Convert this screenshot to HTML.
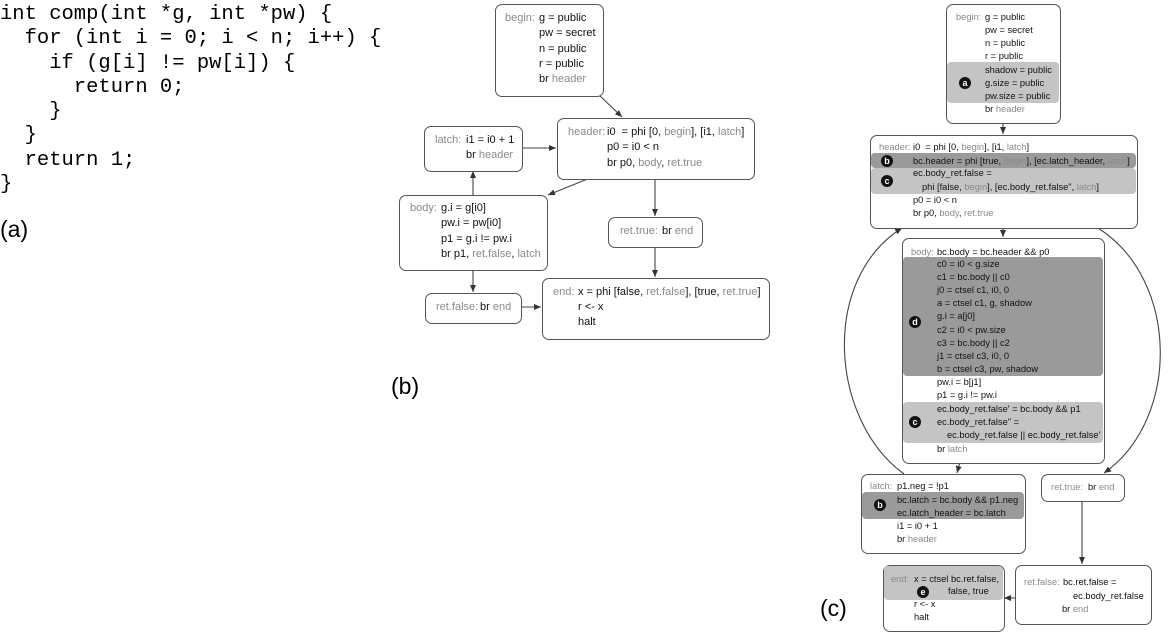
<!DOCTYPE html>
<html><head><meta charset="utf-8">
<style>
body{margin:0;width:1176px;height:641px;background:#fff;position:relative;overflow:hidden;font-family:"Liberation Sans",sans-serif;}
.code{position:absolute;left:0;top:3px;font-family:"Liberation Mono",monospace;font-size:20.5px;line-height:24.3px;white-space:pre;color:#000;}
.lbl{position:absolute;font-size:23px;color:#000;}
.box{position:absolute;border:1px solid #555;border-radius:7px;background:#fff;}
.t{position:absolute;white-space:pre;color:#111;line-height:14px;}
.b .t{font-size:11px;}
.c .t{font-size:9.3px;line-height:12px;}
.g{color:#8a8a8a;}
.band{position:absolute;border-radius:4px;}
.dk{background:#9a9a9a;}
.lt{background:#c4c4c4;}
.m{position:absolute;width:12px;height:12px;border-radius:50%;background:#111;color:#fff;font-size:9px;font-weight:bold;text-align:center;line-height:12px;}
</style></head><body>
<div class="code">int comp(int *g, int *pw) {
  for (int i = 0; i &lt; n; i++) {
    if (g[i] != pw[i]) {
      return 0;
    }
  }
  return 1;
}</div>
<div class="lbl" style="left:0;top:216px">(a)</div>
<div class="lbl" style="left:391px;top:373px">(b)</div>
<div class="lbl" style="left:820px;top:595px">(c)</div>

<svg width="1176" height="641" style="position:absolute;left:0;top:0">
<defs><marker id="ar" markerWidth="8" markerHeight="8" refX="7" refY="4" orient="auto" markerUnits="userSpaceOnUse"><path d="M0,1 L7,4 L0,7 z" fill="#333"/></marker></defs>
<g stroke="#444" stroke-width="1.1" fill="none" marker-end="url(#ar)">
<line x1="598" y1="94" x2="622" y2="117"/>
<line x1="521" y1="148" x2="556" y2="148"/>
<line x1="590" y1="178" x2="548" y2="195"/>
<line x1="655" y1="178" x2="655" y2="216"/>
<line x1="473" y1="195" x2="473" y2="171"/>
<line x1="473" y1="269" x2="473" y2="292"/>
<line x1="655" y1="246" x2="655" y2="277"/>
<line x1="520" y1="307" x2="541" y2="307"/>
<line x1="1003" y1="122" x2="1003" y2="134"/>
<line x1="1003" y1="227" x2="1003" y2="237"/>
<line x1="960" y1="462" x2="957" y2="473"/>
<line x1="1082" y1="500" x2="1082" y2="564"/>
<line x1="1015" y1="598" x2="1004" y2="598"/>
<path d="M904,474 C830,420 820,280 902,228"/>
<path d="M1098,228 C1180,280 1180,420 1104,473"/>
</g>
</svg>

<!-- (b) -->
<div class="b">
<div class="box" style="left:495px;top:4px;width:107px;height:91px"></div>
<span class="t g" style="left:505px;top:11px">begin:</span>
<span class="t" style="left:539px;top:11px">g = public</span>
<span class="t" style="left:539px;top:26px">pw = secret</span>
<span class="t" style="left:539px;top:42px">n = public</span>
<span class="t" style="left:539px;top:57px">r = public</span>
<span class="t" style="left:539px;top:72px">br <span class="g">header</span></span>

<div class="box" style="left:557px;top:118px;width:196px;height:60px"></div>
<span class="t g" style="left:568px;top:125px">header:</span>
<span class="t" style="left:607px;top:125px">i0  = phi [0, <span class="g">begin</span>], [i1, <span class="g">latch</span>]</span>
<span class="t" style="left:607px;top:140px">p0 = i0 &lt; n</span>
<span class="t" style="left:607px;top:156px">br p0, <span class="g">body</span>, <span class="g">ret.true</span></span>

<div class="box" style="left:424px;top:126px;width:97px;height:44px"></div>
<span class="t g" style="left:435px;top:133px">latch:</span>
<span class="t" style="left:466px;top:133px">i1 = i0 + 1</span>
<span class="t" style="left:466px;top:148px">br <span class="g">header</span></span>

<div class="box" style="left:399px;top:195px;width:147px;height:74px"></div>
<span class="t g" style="left:410px;top:201px">body:</span>
<span class="t" style="left:441px;top:201px">g.i = g[i0]</span>
<span class="t" style="left:441px;top:216px">pw.i = pw[i0]</span>
<span class="t" style="left:441px;top:232px">p1 = g.i != pw.i</span>
<span class="t" style="left:441px;top:247px">br p1, <span class="g">ret.false</span>, <span class="g">latch</span></span>

<div class="box" style="left:608px;top:217px;width:93px;height:29px"></div>
<span class="t g" style="left:620px;top:224px">ret.true:</span>
<span class="t" style="left:662px;top:224px">br <span class="g">end</span></span>

<div class="box" style="left:425px;top:293px;width:95px;height:29px"></div>
<span class="t g" style="left:436px;top:300px">ret.false:</span>
<span class="t" style="left:480px;top:300px">br <span class="g">end</span></span>

<div class="box" style="left:542px;top:278px;width:226px;height:60px"></div>
<span class="t g" style="left:553px;top:285px">end:</span>
<span class="t" style="left:578px;top:285px">x = phi [false, <span class="g">ret.false</span>], [true, <span class="g">ret.true</span>]</span>
<span class="t" style="left:578px;top:300px">r &lt;- x</span>
<span class="t" style="left:578px;top:315px">halt</span>
</div>

<!-- (c) -->
<div class="c">
<div class="box" style="left:946px;top:4px;width:113px;height:118px"></div>
<div class="band lt" style="left:947px;top:62px;width:112px;height:41px"></div>
<div class="m" style="left:959px;top:77px">a</div>
<span class="t g" style="left:956px;top:11px">begin:</span>
<span class="t" style="left:985px;top:11px">g = public</span>
<span class="t" style="left:985px;top:24px">pw = secret</span>
<span class="t" style="left:985px;top:37px">n = public</span>
<span class="t" style="left:985px;top:50px">r = public</span>
<span class="t" style="left:985px;top:64px">shadow = public</span>
<span class="t" style="left:985px;top:77px">g.size = public</span>
<span class="t" style="left:985px;top:90px">pw.size = public</span>
<span class="t" style="left:985px;top:103px">br <span class="g">header</span></span>

<div class="box" style="left:870px;top:135px;width:266px;height:92px"></div>
<div class="band dk" style="left:871px;top:153px;width:265px;height:15px"></div>
<div class="band lt" style="left:871px;top:168px;width:265px;height:26px"></div>
<div class="m" style="left:881px;top:155px">b</div>
<div class="m" style="left:881px;top:175px">c</div>
<span class="t g" style="left:879px;top:141px">header:</span>
<span class="t" style="left:913px;top:141px">i0  = phi [0, <span class="g">begin</span>], [i1, <span class="g">latch</span>]</span>
<span class="t" style="left:913px;top:155px">bc.header = phi [true, <span class="g">begin</span>], [ec.latch_header, <span class="g">latch</span>]</span>
<span class="t" style="left:913px;top:167px">ec.body_ret.false =</span>
<span class="t" style="left:922px;top:181px">phi [false, <span class="g">begin</span>], [ec.body_ret.false", <span class="g">latch</span>]</span>
<span class="t" style="left:913px;top:194px">p0 = i0 &lt; n</span>
<span class="t" style="left:913px;top:207px">br p0, <span class="g">body</span>, <span class="g">ret.true</span></span>

<div class="box" style="left:902px;top:238px;width:201px;height:224px"></div>
<div class="band dk" style="left:903px;top:257px;width:200px;height:119px"></div>
<div class="band lt" style="left:903px;top:402px;width:200px;height:41px"></div>
<div class="m" style="left:909px;top:316px">d</div>
<div class="m" style="left:909px;top:416px">c</div>
<span class="t g" style="left:911px;top:246px">body:</span>
<span class="t" style="left:937px;top:246px">bc.body = bc.header &amp;&amp; p0</span>
<span class="t" style="left:937px;top:258px">c0 = i0 &lt; g.size</span>
<span class="t" style="left:937px;top:271px">c1 = bc.body || c0</span>
<span class="t" style="left:937px;top:284px">j0 = ctsel c1, i0, 0</span>
<span class="t" style="left:937px;top:297px">a = ctsel c1, g, shadow</span>
<span class="t" style="left:937px;top:310px">g.i = a[j0]</span>
<span class="t" style="left:937px;top:324px">c2 = i0 &lt; pw.size</span>
<span class="t" style="left:937px;top:337px">c3 = bc.body || c2</span>
<span class="t" style="left:937px;top:350px">j1 = ctsel c3, i0, 0</span>
<span class="t" style="left:937px;top:363px">b = ctsel c3, pw, shadow</span>
<span class="t" style="left:937px;top:376px">pw.i = b[j1]</span>
<span class="t" style="left:937px;top:389px">p1 = g.i != pw.i</span>
<span class="t" style="left:937px;top:403px">ec.body_ret.false' = bc.body &amp;&amp; p1</span>
<span class="t" style="left:937px;top:416px">ec.body_ret.false" =</span>
<span class="t" style="left:947px;top:429px">ec.body_ret.false || ec.body_ret.false'</span>
<span class="t" style="left:937px;top:443px">br <span class="g">latch</span></span>

<div class="box" style="left:861px;top:474px;width:163px;height:78px"></div>
<div class="band dk" style="left:862px;top:492px;width:162px;height:27px"></div>
<div class="m" style="left:874px;top:499px">b</div>
<span class="t g" style="left:870px;top:480px">latch:</span>
<span class="t" style="left:897px;top:480px">p1.neg = !p1</span>
<span class="t" style="left:897px;top:494px">bc.latch = bc.body &amp;&amp; p1.neg</span>
<span class="t" style="left:897px;top:507px">ec.latch_header = bc.latch</span>
<span class="t" style="left:897px;top:520px">i1 = i0 + 1</span>
<span class="t" style="left:897px;top:533px">br <span class="g">header</span></span>

<div class="box" style="left:1041px;top:474px;width:82px;height:26px"></div>
<span class="t g" style="left:1051px;top:481px">ret.true:</span>
<span class="t" style="left:1088px;top:481px">br <span class="g">end</span></span>

<div class="box" style="left:883px;top:565px;width:120px;height:65px"></div>
<div class="band lt" style="left:884px;top:566px;width:119px;height:34px"></div>
<div class="m" style="left:917px;top:586px">e</div>
<span class="t g" style="left:891px;top:573px">end:</span>
<span class="t" style="left:914px;top:573px">x = ctsel bc.ret.false,</span>
<span class="t" style="left:948px;top:585px">false, true</span>
<span class="t" style="left:914px;top:598px">r &lt;- x</span>
<span class="t" style="left:914px;top:611px">halt</span>

<div class="box" style="left:1015px;top:565px;width:135px;height:58px"></div>
<span class="t g" style="left:1024px;top:576px">ret.false:</span>
<span class="t" style="left:1063px;top:576px">bc.ret.false =</span>
<span class="t" style="left:1073px;top:590px">ec.body_ret.false</span>
<span class="t" style="left:1062px;top:603px">br <span class="g">end</span></span>
</div>
</body></html>
